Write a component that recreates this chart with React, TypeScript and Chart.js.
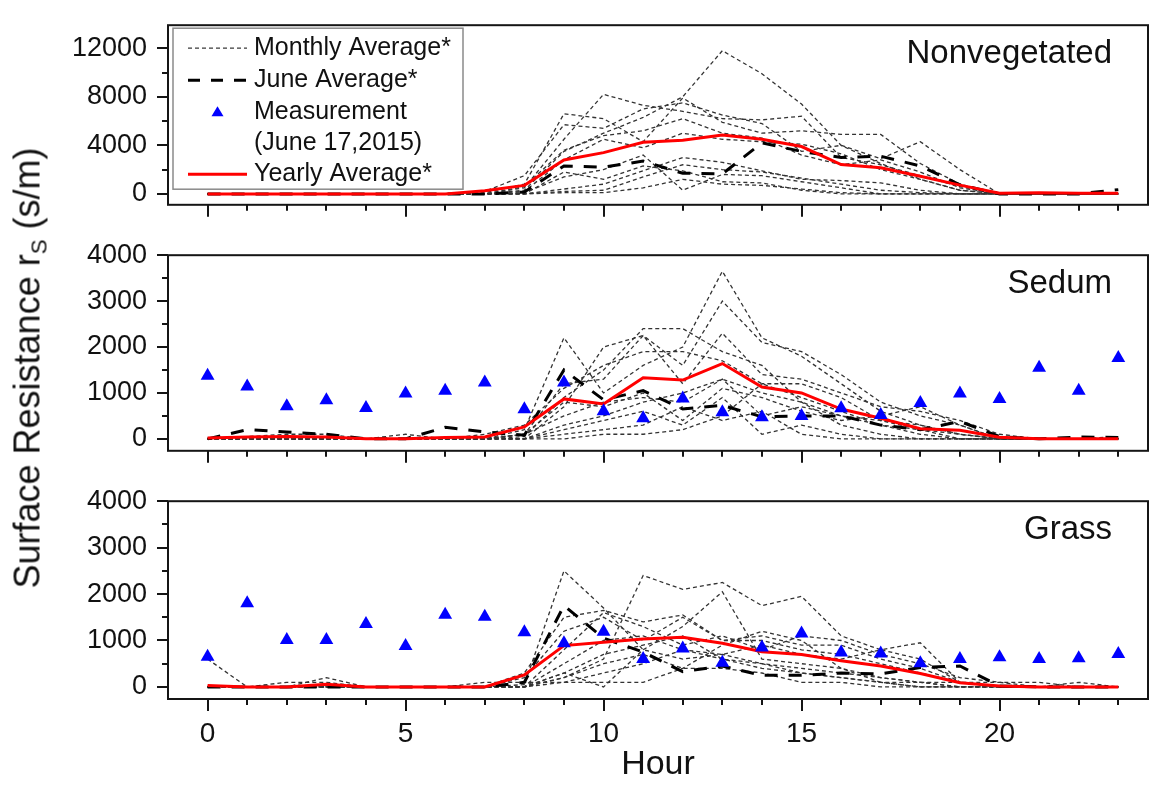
import { useEffect, useRef } from 'react';
import { Chart, registerables } from 'chart.js';

Chart.register(...registerables);

const FONT = "'Liberation Sans', Arial, Helvetica, sans-serif";

const HOURS = [0, 1, 2, 3, 4, 5, 6, 7, 8, 9, 10, 11, 12, 13, 14, 15, 16, 17, 18, 19, 20, 21, 22, 23];
const HOUR_LABELS = [0, 5, 10, 15, 20];
const NONVEG_TICKS = [0, 4000, 8000, 12000];
const VEG_TICKS = [0, 1000, 2000, 3000, 4000];

// Nonvegetated roof: one dashed curve per month, plus June and yearly means
const NONVEG_MONTHLY = [
  [0, 0, 0, 0, 0, 0, 0, 0, 300, 3500, 5000, 6300, 8000, 11800, 9900, 7400, 4000, 2500, 1200, 300, 0, 0, 0, 0],
  [0, 0, 0, 0, 0, 0, 0, 0, 500, 4500, 8200, 7300, 6800, 6200, 6100, 6400, 3000, 2400, 1500, 600, 0, 0, 0, 0],
  [0, 0, 0, 0, 0, 0, 0, 100, 800, 6600, 6200, 4300, 7900, 5900, 5000, 5200, 4900, 4900, 2500, 800, 0, 0, 0, 0],
  [0, 0, 0, 0, 0, 0, 0, 200, 1500, 5700, 5400, 7000, 7500, 6500, 5800, 3500, 4000, 2900, 4300, 2000, 0, 0, 0, 0],
  [0, 0, 0, 0, 0, 0, 0, 0, 600, 3600, 4800, 5200, 6200, 5000, 4600, 3200, 2400, 2800, 1800, 500, 0, 0, 0, 0],
  [0, 0, 0, 0, 0, 0, 0, 0, 100, 1400, 2000, 3200, 300, 1600, 1500, 1000, 500, 0, 0, 0, 0, 0, 0, 0],
  [0, 0, 0, 0, 0, 0, 0, 0, 0, 1800, 1200, 2300, 1900, 1000, 900, 300, 0, 0, 0, 0, 0, 0, 0, 0],
  [0, 0, 0, 0, 0, 0, 0, 0, 0, 400, 800, 1900, 3000, 2600, 1900, 1200, 1100, 900, 300, 0, 0, 0, 0, 0],
  [0, 0, 0, 0, 0, 0, 0, 0, 0, 100, 100, 500, 1200, 800, 700, 400, 100, 0, 0, 0, 0, 0, 0, 0],
  [0, 0, 0, 0, 0, 0, 0, 0, 0, 200, 300, 1400, 2400, 2000, 1800, 1300, 800, 300, 100, 0, 0, 0, 0, 0],
  [0, 0, 0, 0, 0, 0, 0, 0, 200, 2800, 4500, 3800, 5000, 4500, 4300, 4100, 3300, 2000, 1200, 300, 0, 0, 0, 0],
];
const NONVEG_JUNE = [0, 0, 0, 0, 0, 0, 0, 0, 150, 2300, 2200, 2700, 1700, 1650, 4200, 3500, 3000, 3100, 2300, 750, 0, 0, 0, 350];
const NONVEG_YEARLY = [0, 0, 0, 0, 0, 0, 0, 250, 700, 2800, 3400, 4250, 4420, 4850, 4500, 3900, 2420, 2150, 1450, 720, 50, 100, 50, 50];

// Sedum roof
const SEDUM_MONTHLY = [
  [0, 0, 0, 0, 0, 0, 0, 0, 200, 2200, 1000, 1600, 2000, 3650, 2200, 1800, 1200, 600, 300, 100, 0, 0, 0, 0],
  [0, 0, 0, 0, 0, 0, 0, 0, 100, 1200, 1300, 2250, 1600, 3000, 2100, 1900, 1400, 800, 500, 300, 0, 0, 0, 0],
  [0, 0, 0, 0, 0, 0, 0, 0, 50, 900, 1500, 2400, 2400, 1900, 1600, 800, 300, 100, 0, 0, 0, 0, 0, 0],
  [0, 0, 0, 0, 0, 0, 0, 0, 0, 700, 2000, 2250, 1200, 2300, 1400, 1300, 1000, 700, 600, 400, 100, 0, 0, 0],
  [0, 0, 0, 0, 0, 0, 0, 100, 300, 1100, 1600, 1900, 1900, 1700, 1200, 900, 600, 300, 100, 0, 0, 0, 0, 0],
  [0, 50, 100, 100, 0, 100, 0, 0, 100, 800, 700, 1000, 400, 1100, 900, 600, 400, 500, 700, 300, 0, 0, 0, 0],
  [0, 0, 0, 0, 0, 0, 0, 0, 0, 300, 500, 800, 1000, 1300, 1000, 800, 500, 300, 200, 100, 0, 0, 0, 0],
  [0, 0, 0, 0, 0, 0, 0, 0, 0, 200, 400, 600, 300, 900, 100, 300, 100, 0, 0, 0, 0, 0, 0, 0],
  [0, 0, 0, 0, 0, 0, 0, 0, 0, 100, 200, 300, 700, 400, 600, 100, 0, 0, 0, 0, 0, 0, 0, 0],
  [0, 0, 0, 0, 0, 0, 0, 0, 100, 500, 800, 900, 800, 1300, 500, 700, 500, 400, 200, 0, 0, 0, 0, 50],
  [0, 0, 0, 0, 0, 0, 0, 0, 0, 0, 100, 100, 200, 500, 1200, 1200, 900, 400, 300, 100, 0, 0, 0, 0],
];
const SEDUM_JUNE = [0, 200, 150, 100, 0, 0, 250, 150, 80, 1500, 850, 1050, 650, 730, 480, 500, 500, 300, 200, 380, 50, 0, 40, 30];
const SEDUM_YEARLY = [20, 40, 50, 40, 0, 0, 30, 40, 260, 870, 760, 1330, 1280, 1640, 1130, 1000, 650, 450, 220, 185, 35, 0, 0, 0];
const SEDUM_MEASURED = [1375, 1140, 710, 840, 670, 990, 1050, 1225, 645, 1225, 600, 450, 880, 580, 470, 500, 665, 520, 780, 990, 870, 1550, 1050, 1760];

// Grass roof
const GRASS_MONTHLY = [
  [600, 0, 0, 0, 0, 0, 0, 0, 50, 2500, 1700, 800, 600, 700, 500, 300, 200, 100, 0, 0, 0, 0, 0, 0],
  [0, 0, 0, 0, 0, 0, 0, 0, 0, 200, 600, 2400, 2100, 2250, 1750, 1950, 1100, 800, 950, 100, 0, 0, 0, 0],
  [0, 0, 0, 0, 0, 0, 0, 0, 0, 300, 0, 800, 1300, 2050, 600, 500, 400, 200, 100, 0, 0, 0, 0, 0],
  [0, 0, 0, 200, 0, 0, 0, 0, 300, 1500, 1650, 1400, 1550, 1000, 1000, 800, 700, 500, 300, 100, 0, 0, 0, 0],
  [0, 0, 0, 0, 0, 0, 0, 0, 200, 1200, 1500, 1000, 1500, 1000, 1100, 900, 900, 600, 400, 100, 0, 0, 0, 0],
  [0, 0, 0, 0, 0, 0, 0, 0, 0, 800, 1600, 1300, 900, 1100, 800, 1100, 1000, 700, 500, 200, 100, 0, 0, 0],
  [0, 0, 0, 0, 0, 0, 0, 0, 0, 500, 1000, 1100, 800, 700, 900, 700, 600, 800, 600, 100, 0, 0, 100, 0],
  [0, 0, 0, 0, 0, 0, 0, 0, 0, 300, 700, 900, 1100, 600, 500, 400, 300, 200, 100, 0, 0, 0, 0, 0],
  [0, 0, 0, 0, 0, 0, 0, 0, 0, 200, 500, 700, 400, 400, 300, 100, 100, 0, 0, 0, 0, 0, 0, 0],
  [0, 0, 0, 0, 0, 0, 0, 100, 100, 100, 100, 100, 400, 900, 1200, 1000, 400, 100, 0, 0, 0, 0, 0, 0],
  [0, 0, 100, 100, 0, 0, 0, 0, 0, 100, 300, 500, 800, 600, 400, 300, 200, 100, 100, 100, 100, 100, 0, 0],
];
const GRASS_JUNE = [0, 0, 0, 0, 0, 0, 0, 0, 100, 1750, 1050, 750, 330, 450, 250, 250, 300, 280, 420, 450, 20, 0, 0, 0];
const GRASS_YEARLY = [30, 0, 0, 60, 0, 0, 0, 0, 260, 890, 960, 1030, 1070, 940, 760, 700, 565, 450, 290, 90, 20, 0, 0, 0];
const GRASS_MEASURED = [650, 1800, 1010, 1010, 1355, 880, 1555, 1510, 1175, 940, 1190, 600, 830, 520, 850, 1150, 740, 720, 510, 600, 640, 600, 620, 710];

type Panel = {
  name: string;
  min: number;
  max: number;
  majors: number[];
  minorStep: number;
  monthly: number[][];
  june: number[];
  yearly: number[];
  measured: number[] | null;
  legend: boolean;
  bottom: boolean;
  top: number;
  height: number;
  padTop: number;
  axisHeight: number;
};

const PANELS: Panel[] = [
  { name: 'Nonvegetated', min: -900, max: 13900, majors: NONVEG_TICKS, minorStep: 2000, monthly: NONVEG_MONTHLY, june: NONVEG_JUNE, yearly: NONVEG_YEARLY, measured: null, legend: true, bottom: false, top: 0, height: 230, padTop: 10, axisHeight: 23 },
  { name: 'Sedum', min: -260, max: 4000, majors: VEG_TICKS, minorStep: 500, monthly: SEDUM_MONTHLY, june: SEDUM_JUNE, yearly: SEDUM_YEARLY, measured: SEDUM_MEASURED, legend: false, bottom: false, top: 230, height: 246, padTop: 24, axisHeight: 23 },
  { name: 'Grass', min: -260, max: 4000, majors: VEG_TICKS, minorStep: 500, monthly: GRASS_MONTHLY, june: GRASS_JUNE, yearly: GRASS_YEARLY, measured: GRASS_MEASURED, legend: false, bottom: true, top: 476, height: 309, padTop: 24, axisHeight: 86 },
];

const toPoints = (vals: number[]) => vals.map((v, i) => ({ x: HOURS[i], y: v }));

// Frame, major/minor tick marks, panel name and (optionally) the legend box
const framePlugin = {
  id: 'panelFrame',
  afterDraw(chart: any, _args: any, opts: any) {
    const { ctx, chartArea: a, scales } = chart;
    const xs = scales.x;
    const ys = scales.y;
    ctx.save();
    ctx.strokeStyle = '#151515';
    ctx.lineWidth = 2;
    ctx.strokeRect(a.left, a.top, a.right - a.left, a.bottom - a.top);

    ctx.beginPath();
    for (let v = 0; v <= opts.yTop; v += opts.minorStep) {
      const py = Math.round(ys.getPixelForValue(v));
      const len = opts.majors.includes(v) ? 11 : 6;
      ctx.moveTo(a.left, py);
      ctx.lineTo(a.left - len, py);
    }
    for (const h of HOURS) {
      const px = Math.round(xs.getPixelForValue(h));
      const len = HOUR_LABELS.includes(h) ? 12 : 6;
      ctx.moveTo(px, a.bottom);
      ctx.lineTo(px, a.bottom + len);
    }
    ctx.stroke();

    ctx.fillStyle = '#111';
    ctx.font = `33px ${FONT}`;
    ctx.textAlign = 'right';
    ctx.textBaseline = 'middle';
    ctx.fillText(opts.name, a.right - 36, a.top + 29);

    if (opts.legend) {
      const lx = a.left + 5;
      const ly = a.top + 3;
      ctx.strokeStyle = '#8a8a8a';
      ctx.lineWidth = 1.5;
      ctx.strokeRect(lx, ly, 290, 161);
      const s0 = a.left + 20;
      const s1 = a.left + 79;
      const tx = a.left + 86;
      const rows = [a.top + 23, a.top + 55, a.top + 87, a.top + 118, a.top + 149];

      ctx.lineWidth = 1.2;
      ctx.strokeStyle = '#3a3a3a';
      ctx.setLineDash([4, 3]);
      ctx.beginPath();
      ctx.moveTo(s0, rows[0]);
      ctx.lineTo(s1, rows[0]);
      ctx.stroke();

      ctx.lineWidth = 3;
      ctx.strokeStyle = '#000';
      ctx.setLineDash([12, 11]);
      ctx.beginPath();
      ctx.moveTo(s0, rows[1]);
      ctx.lineTo(s1, rows[1]);
      ctx.stroke();
      ctx.setLineDash([]);

      const cx = (s0 + s1) / 2;
      ctx.fillStyle = '#0000ff';
      ctx.beginPath();
      ctx.moveTo(cx, rows[2] - 6);
      ctx.lineTo(cx + 6, rows[2] + 4);
      ctx.lineTo(cx - 6, rows[2] + 4);
      ctx.closePath();
      ctx.fill();

      ctx.strokeStyle = '#ff0000';
      ctx.lineWidth = 3;
      ctx.beginPath();
      ctx.moveTo(s0, rows[4]);
      ctx.lineTo(s1, rows[4]);
      ctx.stroke();

      ctx.fillStyle = '#111';
      ctx.font = `25px ${FONT}`;
      ctx.textAlign = 'left';
      ctx.textBaseline = 'middle';
      ctx.fillText('Monthly Average*', tx, rows[0]);
      ctx.fillText('June Average*', tx, rows[1]);
      ctx.fillText('Measurement', tx, rows[2]);
      ctx.fillText('(June 17,2015)', tx, rows[3]);
      ctx.fillText('Yearly Average*', tx, rows[4]);
    }
    ctx.restore();
  },
};

function buildChart(canvas: HTMLCanvasElement, p: Panel) {
  const datasets: any[] = [];
  if (p.measured) {
    datasets.push({
      label: 'Measurement (June 17,2015)',
      data: toPoints(p.measured),
      showLine: false,
      pointStyle: 'triangle',
      pointRadius: 8,
      backgroundColor: '#0000ff',
      borderColor: '#0000ff',
      borderWidth: 0,
      order: 0,
    });
  }
  datasets.push({
    label: 'Yearly Average*',
    data: toPoints(p.yearly),
    borderColor: '#ff0000',
    borderWidth: 3,
    pointRadius: 0,
    fill: false,
    order: 1,
  });
  datasets.push({
    label: 'June Average*',
    data: toPoints(p.june),
    borderColor: '#000000',
    borderWidth: 3,
    borderDash: [13, 11],
    pointRadius: 0,
    fill: false,
    order: 2,
  });
  p.monthly.forEach((m, i) => {
    datasets.push({
      label: `Monthly Average* ${i + 1}`,
      data: toPoints(m),
      borderColor: '#333333',
      borderWidth: 1.3,
      borderDash: [4, 3],
      pointRadius: 0,
      fill: false,
      order: 3,
    });
  });

  return new Chart(canvas, {
    type: 'line',
    data: { datasets },
    options: {
      animation: false,
      responsive: false,
      devicePixelRatio: 1,
      layout: { padding: { top: p.padTop, right: 8, left: 0, bottom: 0 } },
      plugins: {
        legend: { display: false },
        tooltip: { enabled: false },
        panelFrame: {
          name: p.name,
          majors: p.majors,
          minorStep: p.minorStep,
          yTop: p.majors[p.majors.length - 1],
          legend: p.legend,
        },
      } as any,
      scales: {
        x: {
          type: 'linear',
          min: -1,
          max: 23.75,
          afterBuildTicks: (s: any) => {
            s.ticks = HOURS.map((v) => ({ value: v }));
          },
          afterFit: (s: any) => {
            s.height = p.axisHeight;
          },
          grid: { display: false, drawTicks: true, tickLength: 12 },
          border: { display: false },
          ticks: {
            display: p.bottom,
            autoSkip: false,
            maxRotation: 0,
            padding: 6,
            color: '#111',
            font: { family: FONT, size: 28 },
            callback: (v: any) => (HOUR_LABELS.includes(Number(v)) ? String(v) : ''),
          },
          title: {
            display: p.bottom,
            text: 'Hour',
            color: '#111',
            font: { family: FONT, size: 34 },
            padding: 0,
          },
        },
        y: {
          type: 'linear',
          min: p.min,
          max: p.max,
          afterBuildTicks: (s: any) => {
            s.ticks = p.majors.map((v) => ({ value: v }));
          },
          afterFit: (s: any) => {
            s.width = 168;
          },
          grid: { display: false, drawTicks: true, tickLength: 12 },
          border: { display: false },
          ticks: {
            padding: 9,
            color: '#111',
            font: { family: FONT, size: 27 },
            callback: (v: any) => String(v),
          },
        },
      },
    },
    plugins: [framePlugin],
  } as any);
}

export default function App() {
  const refs = [useRef<HTMLCanvasElement>(null), useRef<HTMLCanvasElement>(null), useRef<HTMLCanvasElement>(null)];

  useEffect(() => {
    const charts = PANELS.map((p, i) => buildChart(refs[i].current as HTMLCanvasElement, p));
    return () => charts.forEach((c) => c.destroy());
  }, []);

  return (
    <div style={{ position: 'fixed', left: 0, top: 0, width: 1156, height: 785, background: '#fff', overflow: 'hidden' }}>
      {PANELS.map((p, i) => (
        <canvas
          key={p.name}
          ref={refs[i]}
          width={1156}
          height={p.height}
          style={{ position: 'absolute', left: 0, top: p.top, width: 1156, height: p.height }}
        />
      ))}
      <div
        style={{
          position: 'absolute',
          left: 30,
          top: 368,
          transform: 'translate(-50%, -50%) rotate(-90deg)',
          whiteSpace: 'nowrap',
          fontFamily: FONT,
          fontSize: 36,
          color: '#111',
          lineHeight: 1,
        }}
      >
        Surface Resistance r<sub style={{ fontSize: '0.62em', verticalAlign: '-0.3em' }}>S</sub> (s/m)
      </div>
    </div>
  );
}
